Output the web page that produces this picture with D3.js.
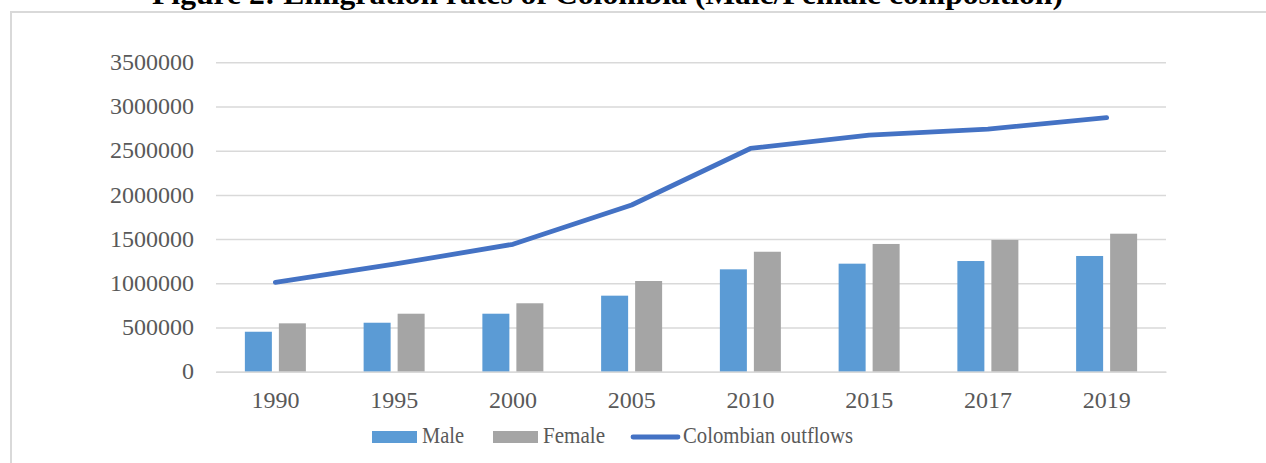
<!DOCTYPE html>
<html>
<head>
<meta charset="utf-8">
<script src="https://cdn.jsdelivr.net/npm/d3@7"></script>
<style>
  html, body { margin: 0; padding: 0; background: #fff; }
  svg { display: block; }
  text { font-family: "Liberation Serif", "Times New Roman", serif; }
</style>
</head>
<body>
<svg id="chart" width="1266" height="463"></svg>
<script>
const title = "Figure 2: Emigration rates of Colombia (Male/Female composition)";
const years = ["1990", "1995", "2000", "2005", "2010", "2015", "2017", "2019"];
const male = [452000, 554000, 656000, 860000, 1158000, 1222000, 1252000, 1309000];
const female = [547000, 656000, 774000, 1026000, 1357000, 1445000, 1490000, 1561000];
const outflows = [1011000, 1216000, 1441000, 1886000, 2525000, 2677000, 2745000, 2873000];
const yTicks = [0, 500000, 1000000, 1500000, 2000000, 2500000, 3000000, 3500000];
const seriesNames = ["Male", "Female", "Colombian outflows"];
const colors = { male: "#5B9BD5", female: "#A5A5A5", line: "#4472C4" };

const svg = d3.select("#chart");
const W = 1266, H = 463;
const plot = { left: 216, right: 1166, top: 62.3, bottom: 371.7 };

// Chart frame
svg.append("path")
  .attr("d", `M11,${H} L11,12 L${W},12`)
  .attr("fill", "none").attr("stroke", "#D9D9D9").attr("stroke-width", 2);

// Title (cut at the top edge, as in the reference)
svg.append("text")
  .attr("x", 607.5).attr("y", 4)
  .attr("text-anchor", "middle")
  .attr("font-weight", "bold").attr("font-size", 30)
  .attr("textLength", 911).attr("lengthAdjust", "spacingAndGlyphs")
  .attr("fill", "#000")
  .text(title);

const x = d3.scaleBand().domain(years).range([plot.left, plot.right]).paddingInner(0).paddingOuter(0);
const y = d3.scaleLinear().domain([0, 3500000]).range([plot.bottom, plot.top]);

// Gridlines + y tick labels
const yAxis = d3.axisLeft(y).tickValues(yTicks).tickSize(-(plot.right - plot.left)).tickPadding(22).tickFormat(d3.format("d"));
const gy = svg.append("g").attr("transform", `translate(${plot.left},0)`).call(yAxis);
gy.select(".domain").remove();
gy.selectAll(".tick line").attr("stroke", "#D9D9D9").attr("stroke-width", 1.5);
gy.selectAll(".tick text")
  .attr("fill", "#595959").attr("font-size", 24)
  .attr("dy", "0.3em");

// Bars
const bw = 27, gap = 7;
const groups = svg.append("g");
groups.selectAll("rect.male").data(years).join("rect")
  .attr("class", "male")
  .attr("x", d => x(d) + x.bandwidth() / 2 - gap / 2 - bw)
  .attr("y", (d, i) => y(male[i]))
  .attr("width", bw)
  .attr("height", (d, i) => y(0) - y(male[i]))
  .attr("fill", colors.male);
groups.selectAll("rect.female").data(years).join("rect")
  .attr("class", "female")
  .attr("x", d => x(d) + x.bandwidth() / 2 + gap / 2)
  .attr("y", (d, i) => y(female[i]))
  .attr("width", bw)
  .attr("height", (d, i) => y(0) - y(female[i]))
  .attr("fill", colors.female);

// X axis
const xAxis = d3.axisBottom(x).tickSize(0).tickPadding(19);
const gx = svg.append("g").attr("transform", `translate(0,${plot.bottom})`).call(xAxis);
gx.select(".domain").attr("stroke", "#D9D9D9").attr("stroke-width", 1.5);
gx.selectAll(".tick text")
  .attr("fill", "#595959").attr("font-size", 24);

// Line
const line = d3.line()
  .x((d, i) => x(years[i]) + x.bandwidth() / 2)
  .y(d => y(d));
svg.append("path")
  .datum(outflows)
  .attr("d", line)
  .attr("fill", "none")
  .attr("stroke", colors.line)
  .attr("stroke-width", 4.8)
  .attr("stroke-linecap", "round")
  .attr("stroke-linejoin", "round");

// Legend
const legend = svg.append("g").attr("font-size", 24).attr("fill", "#595959");
const legendItems = [
  { name: seriesNames[0], type: "rect", color: colors.male, x: 372, tl: 42 },
  { name: seriesNames[1], type: "rect", color: colors.female, x: 493, tl: 62 },
  { name: seriesNames[2], type: "line", color: colors.line, x: 631, tl: 170 }
];
legendItems.forEach(it => {
  if (it.type === "rect") {
    legend.append("rect").attr("x", it.x).attr("y", 431).attr("width", 45).attr("height", 12).attr("fill", it.color);
    legend.append("text").attr("x", it.x + 50).attr("y", 443).attr("fill", "#595959")
      .attr("textLength", it.tl).attr("lengthAdjust", "spacingAndGlyphs").text(it.name);
  } else {
    legend.append("line").attr("x1", it.x + 2).attr("x2", it.x + 47).attr("y1", 437).attr("y2", 437)
      .attr("stroke", it.color).attr("stroke-width", 4.8).attr("stroke-linecap", "round");
    legend.append("text").attr("x", it.x + 52).attr("y", 443).attr("fill", "#595959")
      .attr("textLength", it.tl).attr("lengthAdjust", "spacingAndGlyphs").text(it.name);
  }
});
</script>
</body>
</html>
